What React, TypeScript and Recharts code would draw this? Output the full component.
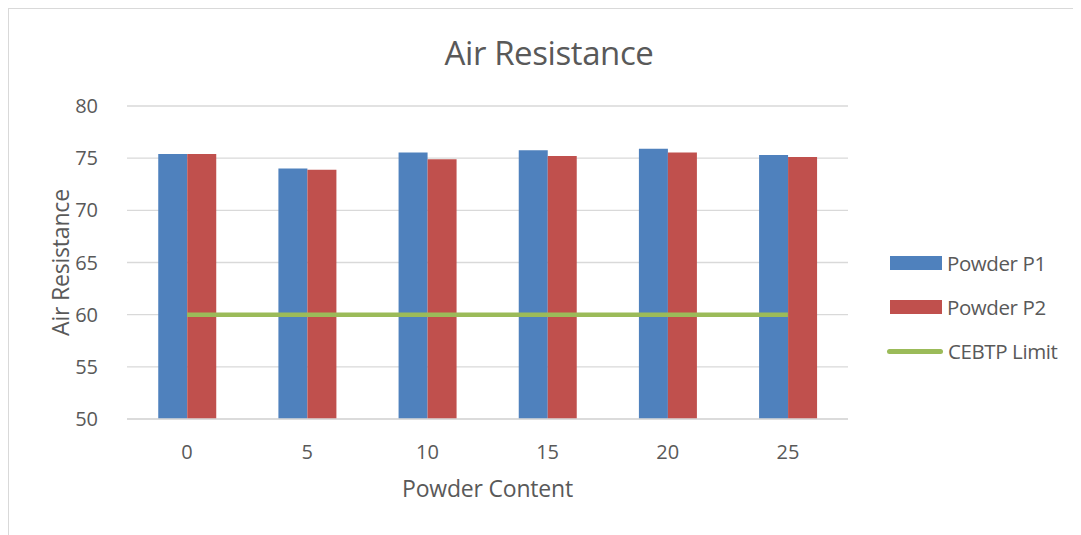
import {
  ComposedChart,
  Bar,
  Line,
  XAxis,
  YAxis,
  CartesianGrid,
  Label
} from 'recharts';

const contents = ['0', '5', '10', '15', '20', '25'];
const powderP1 = [75.4, 74.0, 75.55, 75.75, 75.9, 75.3];
const powderP2 = [75.4, 73.9, 74.9, 75.2, 75.55, 75.1];
const cebtpLimit = [60, 60, 60, 60, 60, 60];
const yTicks = [50, 55, 60, 65, 70, 75, 80];

const data = contents.map((c, i) => ({
  content: c,
  p1: powderP1[i],
  p2: powderP2[i],
  limit: cebtpLimit[i]
}));

const font = '"Open Sans", "Liberation Sans", sans-serif';
const textColor = '#595959';

function LegendBox() {
  const items = [
    { label: 'Powder P1', color: '#4f81bd', kind: 'bar' },
    { label: 'Powder P2', color: '#c0504d', kind: 'bar' },
    { label: 'CEBTP Limit', color: '#9bbb59', kind: 'line' }
  ];
  return (
    <div
      style={{
        position: 'absolute',
        left: 878,
        top: 232,
        fontFamily: font,
        color: textColor,
        fontSize: 20.5,
        letterSpacing: -0.4
      }}
    >
      {items.map((it) => (
        <div key={it.label} style={{ display: 'flex', alignItems: 'center', height: 44 }}>
          {it.kind === 'bar' ? (
            <span style={{ display: 'inline-block', width: 52, height: 14, background: it.color, marginLeft: 3 }} />
          ) : (
            <span style={{ display: 'inline-block', width: 56, height: 5, borderRadius: 3, background: it.color }} />
          )}
          <span style={{ marginLeft: 5 }}>{it.label}</span>
        </div>
      ))}
    </div>
  );
}

export default function App() {
  return (
    <div
      style={{
        position: 'relative',
        width: 1070,
        height: 530,
        border: '1px solid #d9d9d9',
        background: '#fff'
      }}
    >
      <div
        style={{
          position: 'absolute',
          left: 0,
          width: 1080,
          top: 21,
          textAlign: 'center',
          fontFamily: font,
          fontSize: 33,
          letterSpacing: -0.4,
          color: textColor
        }}
      >
        Air Resistance
      </div>
      <ComposedChart
        width={1068}
        height={525}
        data={data}
        margin={{ top: 97, right: 229, bottom: 35, left: 68 }}
        barCategoryGap="26%"
        barGap={0}
      >
        <CartesianGrid vertical={false} stroke="#d9d9d9" strokeWidth={1.3} />
        <XAxis
          dataKey="content"
          height={80}
          tickLine={false}
          axisLine={{ stroke: '#d9d9d9', strokeWidth: 1.3 }}
          tick={{ fill: textColor, fontSize: 20, fontFamily: font }}
          tickMargin={20}
        >
          <Label
            content={({ viewBox }: any) => (
              <text
                x={viewBox.x + viewBox.width / 2}
                y={viewBox.y + 78}
                textAnchor="middle"
                fill={textColor}
                fontSize={23}
                letterSpacing={-0.2}
                fontFamily={font}
              >
                Powder Content
              </text>
            )}
          />
        </XAxis>
        <YAxis
          width={50}
          domain={[50, 80]}
          ticks={yTicks}
          interval={0}
          axisLine={false}
          tickLine={false}
          tick={{ fill: textColor, fontSize: 20, fontFamily: font }}
          tickMargin={23}
        >
          <Label
            content={({ viewBox }: any) => {
              const cx = viewBox.x - 17;
              const cy = viewBox.y + viewBox.height / 2;
              return (
                <text
                  x={cx}
                  y={cy}
                  transform={`rotate(-90 ${cx} ${cy})`}
                  textAnchor="middle"
                  dominantBaseline="central"
                  fill={textColor}
                  fontSize={23}
                  letterSpacing={-0.2}
                  fontFamily={font}
                >
                  Air Resistance
                </text>
              );
            }}
          />
        </YAxis>
        <Bar dataKey="p1" name="Powder P1" fill="#4f81bd" isAnimationActive={false} />
        <Bar dataKey="p2" name="Powder P2" fill="#c0504d" isAnimationActive={false} />
        <Line
          dataKey="limit"
          name="CEBTP Limit"
          stroke="#9bbb59"
          strokeWidth={4.5}
          dot={false}
          isAnimationActive={false}
        />
      </ComposedChart>
      <LegendBox />
    </div>
  );
}
